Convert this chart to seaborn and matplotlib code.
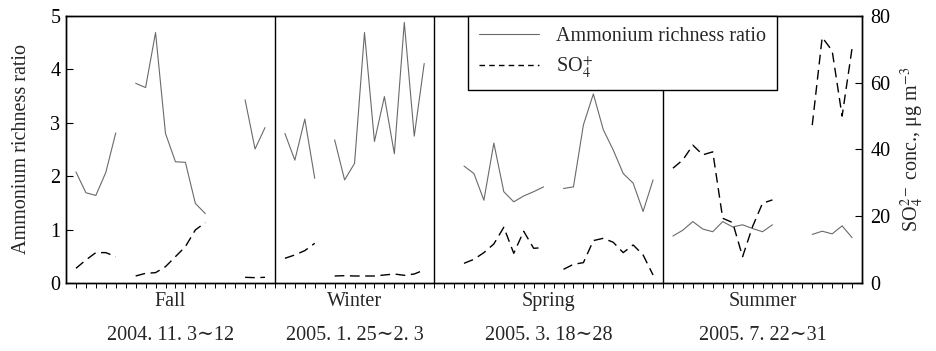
import numpy as np
import pandas as pd
import matplotlib
matplotlib.use("Agg")
import matplotlib.pyplot as plt
import matplotlib.transforms as mtransforms
from matplotlib.lines import Line2D
import seaborn as sns

nan = np.nan

# ---- data (12-hour samples, gaps = missing) ----
seasons = ["Fall", "Winter", "Spring", "Summer"]
periods = ["2004. 11. 3\u223c12", "2005. 1. 25\u223c2. 3", "2005. 3. 18\u223c28", "2005. 7. 22\u223c31"]
n_slots = [21, 16, 23, 20]   # sample slots per season panel (incl. separator slot)

ratio_fall = [2.08, 1.69, 1.64, 2.07, 2.81, nan, 3.74, 3.66, 4.69, 2.80, 2.27, 2.26, 1.49, 1.30,
              nan, nan, nan, 3.43, 2.51, 2.91]
so4_fall = [4.4, 6.9, 9.1, 9.1, 7.9, nan, 2.1, 2.9, 3.1, 4.9, 7.9, 10.9, 15.9, 18.1,
            nan, nan, nan, 1.7, 1.6, 1.7]

ratio_winter = [2.80, 2.30, 3.07, 1.96, nan, 2.68, 1.93, 2.24, 4.69, 2.65, 3.49, 2.42, 4.88, 2.75, 4.11]
so4_winter = [7.4, 8.4, 9.7, 11.9, nan, 2.1, 2.2, 2.1, 2.1, 2.1, 2.4, 2.7, 2.3, 2.7, 3.9]

ratio_spring = [nan, nan, 2.19, 2.05, 1.55, 2.62, 1.71, 1.52, 1.63, 1.71, 1.80, nan,
                1.77, 1.80, 2.96, 3.54, 2.87, 2.49, 2.05, 1.87, 1.34, 1.93]
so4_spring = [nan, nan, 5.9, 7.1, 9.1, 11.7, 16.7, 8.9, 15.5, 10.4, 10.6, nan,
              4.1, 5.6, 6.1, 12.7, 13.4, 12.2, 9.1, 11.4, 8.4, 2.4]

ratio_summer = [0.88, 0.99, 1.15, 1.01, 0.96, 1.15, 1.05, 1.09, 1.02, 0.96, 1.09, nan, nan, nan,
                0.91, 0.97, 0.92, 1.07, 0.85]
so4_summer = [34.4, 36.9, 41.3, 38.4, 39.3, 19.4, 18.1, 7.9, 16.9, 23.9, 24.9, nan, nan, nan,
              47.3, 73.6, 69.6, 50.0, 70.3]

ratio_all = [ratio_fall, ratio_winter, ratio_spring, ratio_summer]
so4_all = [so4_fall, so4_winter, so4_spring, so4_summer]

# ---- build long table with sample index and segment ids ----
rows = []
start = 0
bounds = []
for s, (r, c, n) in enumerate(zip(ratio_all, so4_all, n_slots)):
    for k, (rv, cv) in enumerate(zip(r, c)):
        rows.append(dict(season=s, x=start + 1 + k, ratio=rv, so4=cv))
    bounds.append(start + n)
    start += n
df = pd.DataFrame(rows)


def seg_ids(frame, col):
    out = []
    for s, g in frame.groupby("season", sort=False):
        isn = g[col].isna()
        ids = (isn != isn.shift(fill_value=True)).cumsum()
        out.append((s * 100 + ids).where(~isn))
    return pd.concat(out)


df["seg"] = seg_ids(df, "ratio")
df["seg2"] = seg_ids(df, "so4")

# ---- figure ----
sns.set_theme(style="ticks")
plt.rcParams["font.family"] = ["Liberation Serif", "DejaVu Serif"]
plt.rcParams["mathtext.fontset"] = "stix"
fs = 14.5

fig = plt.figure(figsize=(9.36, 3.51), dpi=100)
ax = fig.add_axes([66 / 936, 1 - 283 / 351, 796 / 936, 267 / 351])
ax2 = ax.twinx()

d1 = df.dropna(subset=["ratio"])
sns.lineplot(data=d1, x="x", y="ratio", units="seg", estimator=None, ax=ax,
             color="#6a6a6a", lw=0.8, legend=False)
d2 = df.dropna(subset=["so4"])
sns.lineplot(data=d2, x="x", y="so4", units="seg2", estimator=None, ax=ax2,
             color="black", lw=1.0, legend=False)
for ln in ax2.get_lines():
    ln.set_linestyle((0, (7, 4)))

total = sum(n_slots)
ax.set_xlim(0, total)
ax.set_ylim(0, 5)
ax2.set_ylim(0, 80)
ax.set_yticks([0, 1, 2, 3, 4, 5])
ax2.set_yticks([0, 20, 40, 60, 80])
ax.set_xticks(np.arange(1, total))
ax.set_xticklabels([])
ax.set_xlabel("")
ax2.set_xlabel("")

ax.tick_params(axis="y", direction="in", length=5, width=0.8, labelsize=fs, pad=4, colors="black")
ax2.tick_params(axis="y", direction="in", length=5, width=0.8, labelsize=fs, pad=6, colors="black")
ax.tick_params(axis="x", direction="out", length=3.5, width=0.7, colors="black")
for a in (ax, ax2):
    for sp in a.spines.values():
        sp.set_visible(True)
        sp.set_color("black")
        sp.set_linewidth(1.0)

for b in bounds[:-1]:
    ax.axvline(b, color="black", lw=1.0)

ax.set_ylabel("Ammonium richness ratio", fontsize=fs, labelpad=14)
ax2.set_ylabel(r"SO$_4^{2-}$ conc., μg m$^{-3}$", fontsize=fs, labelpad=6)

trans = mtransforms.blended_transform_factory(ax.transData, ax.transAxes)
left = 0
for s, n in enumerate(n_slots):
    cx = left + n / 2
    ax.text(cx, -0.07, seasons[s], transform=trans, ha="center", va="center", fontsize=fs)
    ax.text(cx, -0.195, periods[s], transform=trans, ha="center", va="center", fontsize=fs)
    left += n

handles = [Line2D([], [], color="#6a6a6a", lw=0.8),
           Line2D([], [], color="black", lw=1.0, linestyle=(0, (4, 3)))]
leg = ax2.legend(handles, ["Ammonium richness ratio", r"SO$_4^{+}$"], loc="upper left",
                 bbox_to_anchor=(0.505, 1.0), borderaxespad=0, fancybox=False, framealpha=1,
                 edgecolor="black", fontsize=fs, handlelength=3.0, handletextpad=0.8,
                 labelspacing=0.4, borderpad=0.55)
leg.get_frame().set_linewidth(1.0)

fig.savefig("out.png", dpi=100)
